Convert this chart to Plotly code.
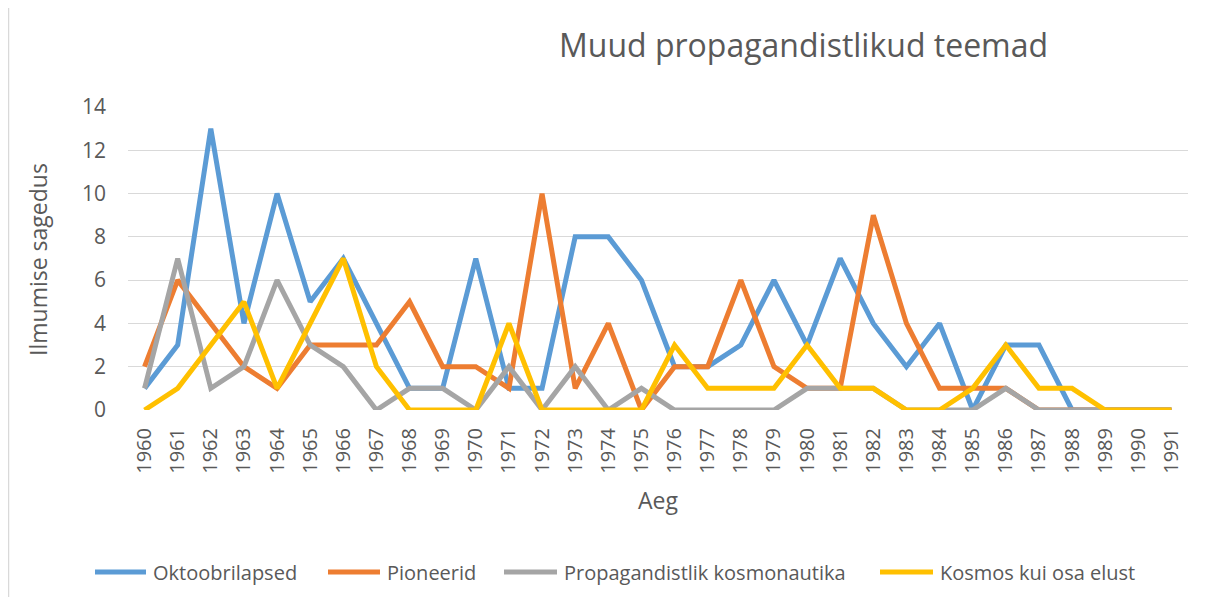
import plotly.graph_objects as go

years = [str(y) for y in range(1960, 1992)]

oktoobrilapsed = [1, 3, 13, 4, 10, 5, 7, 4, 1, 1, 7, 1, 1, 8, 8, 6,
                  2, 2, 3, 6, 3, 7, 4, 2, 4, 0, 3, 3, 0, 0, 0, 0]
pioneerid = [2, 6, 4, 2, 1, 3, 3, 3, 5, 2, 2, 1, 10, 1, 4, 0,
             2, 2, 6, 2, 1, 1, 9, 4, 1, 1, 1, 0, 0, 0, 0, 0]
kosmonautika = [1, 7, 1, 2, 6, 3, 2, 0, 1, 1, 0, 2, 0, 2, 0, 1,
                0, 0, 0, 0, 1, 1, 1, 0, 0, 0, 1, 0, 0, 0, 0, 0]
kosmos_elu = [0, 1, 3, 5, 1, 4, 7, 2, 0, 0, 0, 4, 0, 0, 0, 0,
              3, 1, 1, 1, 3, 1, 1, 0, 0, 1, 3, 1, 1, 0, 0, 0]

series_names = ["Oktoobrilapsed", "Pioneerid", "Propagandistlik kosmonautika", "Kosmos kui osa elust"]
series_values = [oktoobrilapsed, pioneerid, kosmonautika, kosmos_elu]
colors = ["#5B9BD5", "#ED7D31", "#A5A5A5", "#FFC000"]

FONT = "Open Sans"
TXT = "#595959"

W, H = 1200, 589
L, R, T, B = 120, 20, 99, 187
PW, PH = W - L - R, H - T - B


def px(x):
    return (x - L) / PW


def py(y):
    return (H - B - y) / PH


fig = go.Figure()
for name, vals, col in zip(series_names, series_values, colors):
    fig.add_trace(go.Scatter(x=years, y=vals, mode="lines", name=name,
                             line=dict(color=col, width=5), showlegend=False))

annotations = [
    dict(text="Muud propagandistlikud teemad", xref="paper", yref="paper",
         x=px(795), y=py(37), xanchor="center", yanchor="middle",
         showarrow=False, font=dict(size=32, color=TXT, family=FONT)),
    dict(text="Ilmumise sagedus", xref="paper", yref="paper",
         x=px(30), y=py(252), xanchor="center", yanchor="middle",
         textangle=-90, showarrow=False, font=dict(size=23, color=TXT, family=FONT)),
    dict(text="Aeg", xref="paper", yref="paper",
         x=px(650), y=py(492), xanchor="center", yanchor="middle",
         showarrow=False, font=dict(size=23, color=TXT, family=FONT)),
]
shapes = [
    dict(type="line", xref="paper", yref="paper",
         x0=px(0.5), x1=px(0.5), y0=py(H), y1=py(0),
         line=dict(color="#D9D9D9", width=1.5)),
]

# custom legend (Excel-style long line samples)
legend_y = 564
legend_line_x = [(87, 138), (320, 372), (496, 549), (872, 925)]
for name, col, (x0, x1) in zip(series_names, colors, legend_line_x):
    shapes.append(dict(type="line", xref="paper", yref="paper",
                       x0=px(x0), x1=px(x1), y0=py(legend_y), y1=py(legend_y),
                       line=dict(color=col, width=5)))
    annotations.append(dict(text=name, xref="paper", yref="paper",
                            x=px(x1 + 5), y=py(legend_y), xanchor="left", yanchor="middle",
                            showarrow=False, font=dict(size=20, color=TXT, family=FONT)))

fig.update_layout(
    width=W, height=H,
    margin=dict(l=L, r=R, t=T, b=B),
    paper_bgcolor="white", plot_bgcolor="white",
    font=dict(family=FONT, color=TXT, size=20),
    showlegend=False,
    annotations=annotations,
    shapes=shapes,
)

fig.update_xaxes(type="category", range=[-0.5, 31.5], showgrid=False,
                 showline=False, zeroline=False, ticks="", tickangle=-90,
                 tickfont=dict(size=20, color=TXT), ticklabelstandoff=13)
fig.update_yaxes(range=[0, 14], dtick=2, showgrid=True, gridcolor="#D9D9D9", gridwidth=1.3,
                 zeroline=False, showline=False, ticks="",
                 tickfont=dict(size=21, color=TXT), ticklabelstandoff=21)

fig.write_html("out.html", config={"displayModeBar": False})
